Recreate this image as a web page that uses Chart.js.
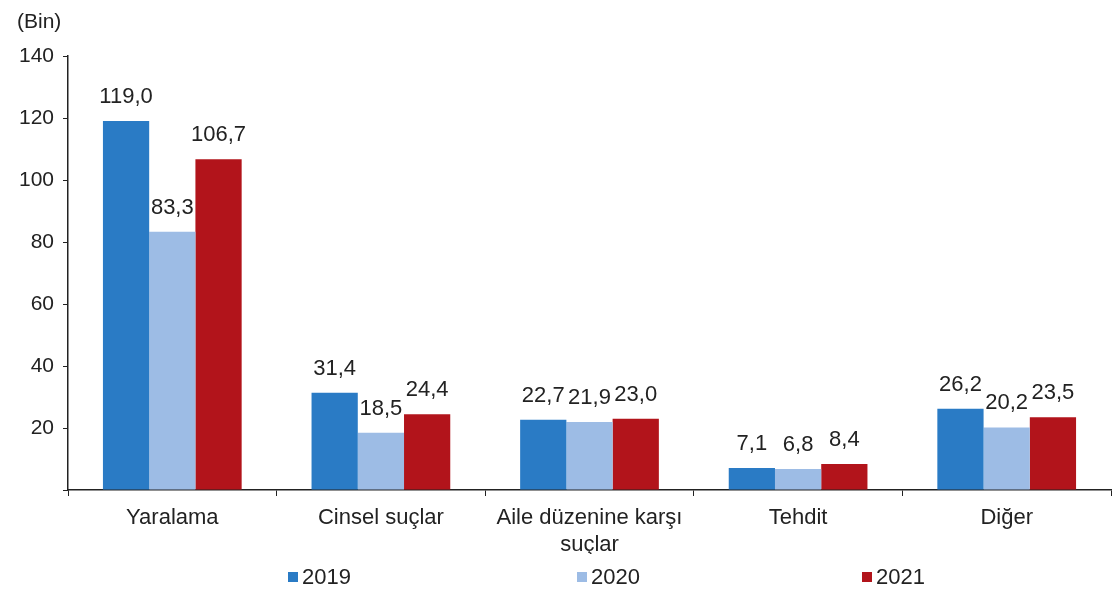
<!DOCTYPE html>
<html>
<head>
<meta charset="utf-8">
<script src="https://cdn.jsdelivr.net/npm/chart.js@4/dist/chart.umd.min.js"></script>
<style>
  body { margin: 0; background: #fff; }
  #wrap { position: relative; width: 1113px; height: 594px; }
  #legend { position: absolute; top: 564px; left: 0; width: 1113px; height: 30px;
    font-family: "Liberation Sans", Arial, sans-serif; font-size: 22px; color: #222; }
  .item { position: absolute; display: flex; align-items: center; }
  .box { width: 10px; height: 10px; margin-right: 4px; }
</style>
</head>
<body>
<div id="wrap">
  <canvas id="chart" width="1113" height="594"></canvas>
  <div id="legend"></div>
</div>
<script>
const categories = ['Yaralama', 'Cinsel suçlar', ['Aile düzenine karşı', 'suçlar'], 'Tehdit', 'Diğer'];
const years = ['2019', '2020', '2021'];
const values2019 = [119.0, 31.4, 22.7, 7.1, 26.2];
const values2020 = [83.3, 18.5, 21.9, 6.8, 20.2];
const values2021 = [106.7, 24.4, 23.0, 8.4, 23.5];
const unitLabel = '(Bin)';

const colors = ['#2a7bc5', '#9dbce5', '#b2141b'];
const legendX = [288, 577, 862];
const FONT = '"Liberation Sans", Arial, sans-serif';

const fmt = (v) => v.toFixed(1).replace('.', ',');

// value labels over bars + unit label at top left
const valueLabels = {
  id: 'valueLabels',
  afterDatasetsDraw(chart) {
    const ctx = chart.ctx;
    ctx.save();
    ctx.font = `22px ${FONT}`;
    ctx.fillStyle = '#222';
    ctx.textAlign = 'center';
    ctx.textBaseline = 'middle';
    chart.data.datasets.forEach((ds, i) => {
      chart.getDatasetMeta(i).data.forEach((bar, j) => {
        ctx.fillText(fmt(ds.data[j]), bar.x, bar.y - 24);
      });
    });
    ctx.textAlign = 'left';
    ctx.font = `21px ${FONT}`;
    ctx.fillText(unitLabel, 17, 22);
    ctx.restore();
  }
};

const seriesValues = [values2019, values2020, values2021];

new Chart(document.getElementById('chart'), {
  type: 'bar',
  data: {
    labels: categories,
    datasets: years.map((y, i) => ({
      label: y,
      data: seriesValues[i],
      backgroundColor: colors[i],
      borderWidth: 0,
      barPercentage: 1,
      categoryPercentage: 0.665,
    }))
  },
  options: {
    responsive: false,
    animation: false,
    layout: { padding: { top: 56, right: 2, bottom: 40, left: 0 } },
    plugins: { legend: { display: false }, tooltip: { enabled: false } },
    scales: {
      x: {
        offset: true,
        afterFit: (s) => { s.height = 64; },
        grid: { offset: true, drawOnChartArea: false, drawTicks: true, tickLength: 6, color: '#222' },
        border: { display: true, color: '#222', width: 1.5 },
        ticks: { color: '#222', font: { family: FONT, size: 22, lineHeight: 1.2 }, padding: 9, maxRotation: 0, autoSkip: false }
      },
      y: {
        min: 0, max: 140,
        afterFit: (s) => { s.width = 68; },
        grid: { drawOnChartArea: false, drawTicks: true, tickLength: 5, color: '#222' },
        border: { display: true, color: '#222', width: 1.5 },
        ticks: {
          stepSize: 20, color: '#222', padding: 9,
          font: { family: FONT, size: 21 },
          callback: (v) => v === 0 ? '' : v
        }
      }
    }
  },
  plugins: [valueLabels]
});

const legend = document.getElementById('legend');
years.forEach((y, i) => {
  const item = document.createElement('div');
  item.className = 'item';
  item.style.left = legendX[i] + 'px';
  item.innerHTML = `<span class="box" style="background:${colors[i]}"></span><span>${y}</span>`;
  legend.appendChild(item);
});
</script>
</body>
</html>
